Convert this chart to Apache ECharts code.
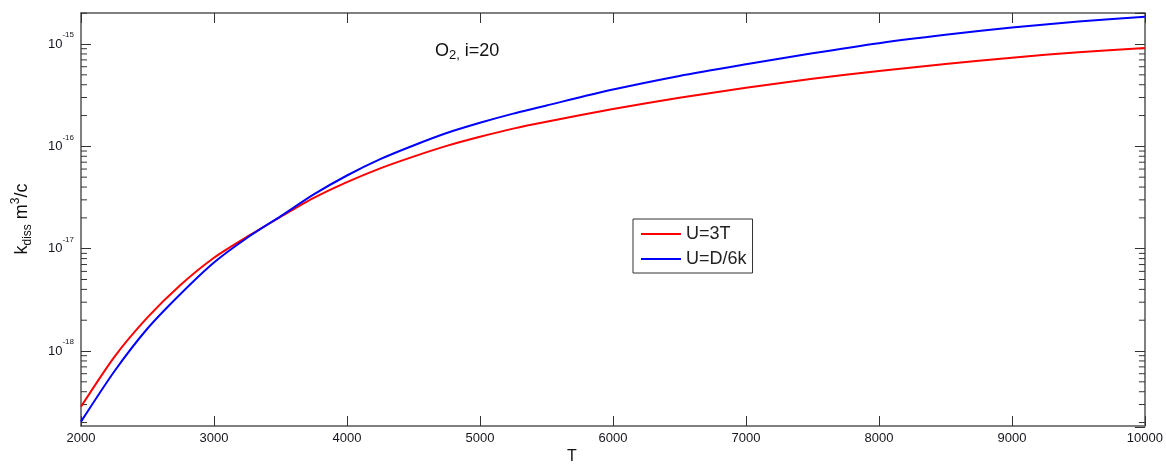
<!DOCTYPE html>
<html>
<head>
<meta charset="utf-8">
<script src="https://cdn.jsdelivr.net/npm/echarts@6/dist/echarts.min.js"></script>
<style>html,body{margin:0;padding:0;background:#fff}#c{width:1166px;height:464px}</style>
</head>
<body>
<div id="c"></div>
<script>
// ---- data ----
const T = [2000, 2250, 2500, 2750, 3000, 3250, 3500, 3750, 4000, 4250, 4500, 4750, 5000, 5250, 5500, 6000, 6500, 7000, 7500, 8000, 8500, 9000, 9500, 10000];
const kU3T = [2.86e-19, 8.73e-19, 2.13e-18, 4.44e-18, 8.15e-18, 1.31e-17, 2.04e-17, 3.13e-17, 4.47e-17, 6.10e-17, 7.94e-17, 1.01e-16, 1.24e-16, 1.49e-16, 1.74e-16, 2.32e-16, 2.99e-16, 3.73e-16, 4.57e-16, 5.46e-16, 6.38e-16, 7.36e-16, 8.32e-16, 9.16e-16];
const kUD6k = [2.04e-19, 6.31e-19, 1.66e-18, 3.63e-18, 7.33e-18, 1.28e-17, 2.07e-17, 3.39e-17, 5.19e-17, 7.50e-17, 1.02e-16, 1.35e-16, 1.70e-16, 2.09e-16, 2.51e-16, 3.59e-16, 4.88e-16, 6.34e-16, 8.13e-16, 1.02e-15, 1.23e-15, 1.45e-15, 1.66e-15, 1.85e-15];
const seriesNames = ['U=3T', 'U=D/6k'];
const yDecades = [-18, -17, -16, -15];   // y tick labels 10^e
const X_MIN = 2000, X_MAX = 10000, X_STEP = 1000;
const Y_MIN = 1.85e-19, Y_MAX = 2.01e-15;

const FONT = "'Liberation Sans', Arial, Helvetica, sans-serif";
const FRAME = '#555', TICK = '#333', TXT = '#15151f';

const minorVals = [];
for (let e = -19; e <= -15; e++) {
  for (let m = 2; m <= 9; m++) {
    const v = m * Math.pow(10, e);
    if (v >= Y_MIN && v <= Y_MAX) minorVals.push(v);
  }
}

const chart = echarts.init(document.getElementById('c'), null, {renderer: 'canvas'});

function xAxisCfg(pos, showLabel) {
  return {
    type: 'value', position: pos, min: X_MIN, max: X_MAX, interval: X_STEP,
    axisLine: {show: true, onZero: false, lineStyle: {color: FRAME, width: 1.5}},
    axisTick: {show: true, inside: true, length: 10, lineStyle: {color: TICK, width: 1}},
    axisLabel: {show: showLabel, color: TXT, fontSize: 13, fontFamily: FONT, margin: 6,
      formatter: function (v) { return String(v); }},
    splitLine: {show: false}
  };
}
function yAxisCfg(pos, showLabel) {
  return {
    type: 'log', logBase: 10, position: pos, min: Y_MIN, max: Y_MAX,
    axisLine: {show: true, onZero: false, lineStyle: {color: FRAME, width: 1.5}},
    axisTick: {show: true, inside: true, length: 10, lineStyle: {color: TICK, width: 1}},
    axisLabel: {
      show: showLabel, margin: 7, showMinLabel: false, showMaxLabel: false,
      formatter: function (v) {
        const e = Math.log10(v), r = Math.round(e);
        if (Math.abs(e - r) > 1e-6 || yDecades.indexOf(r) < 0) return '';
        return '{b|10}{s|' + r + '}';
      },
      rich: {
        b: {fontSize: 13, fontFamily: FONT, color: TXT, lineHeight: 26, verticalAlign: 'middle'},
        s: {fontSize: 8, fontFamily: FONT, color: TXT, lineHeight: 10, verticalAlign: 'top'}
      }
    },
    splitLine: {show: false}
  };
}

const option = {
  animation: false,
  backgroundColor: '#fff',
  grid: {left: 81, right: 19, top: 13, bottom: 38},
  xAxis: [xAxisCfg('bottom', true), xAxisCfg('top', false)],
  yAxis: [yAxisCfg('left', true), yAxisCfg('right', false)],
  legend: {
    data: seriesNames, orient: 'vertical', left: 633, top: 219,
    itemWidth: 40, itemHeight: 16, itemGap: 7, padding: [6, 6, 5, 7],
    borderColor: '#333', borderWidth: 1, backgroundColor: '#fff', selectedMode: false,
    itemStyle: {opacity: 0},
    textStyle: {fontSize: 18, fontFamily: FONT, color: '#222'}
  },
  series: [
    {
      name: seriesNames[0], type: 'line', xAxisIndex: 0, yAxisIndex: 0,
      data: T.map((t, i) => [t, kU3T[i]]), symbol: 'none', smooth: 0.25,
      lineStyle: {color: '#ff0000', width: 2}, itemStyle: {color: '#ff0000'}
    },
    {
      name: seriesNames[1], type: 'line', xAxisIndex: 0, yAxisIndex: 0,
      data: T.map((t, i) => [t, kUD6k[i]]), symbol: 'none', smooth: 0.25,
      lineStyle: {color: '#0000ff', width: 2}, itemStyle: {color: '#0000ff'}
    },
    {
      type: 'custom', silent: true, xAxisIndex: 0, yAxisIndex: 0, z: 3,
      data: minorVals.map(v => [X_MIN, v]),
      renderItem: function (params, api) {
        const v = api.value(1);
        const pl = api.coord([X_MIN, v]);
        const pr = api.coord([X_MAX, v]);
        return {
          type: 'group',
          children: [
            {type: 'line', shape: {x1: pl[0], y1: pl[1], x2: pl[0] + 6, y2: pl[1]}, style: {stroke: TICK, lineWidth: 1}},
            {type: 'line', shape: {x1: pr[0] - 6, y1: pr[1], x2: pr[0], y2: pr[1]}, style: {stroke: TICK, lineWidth: 1}}
          ]
        };
      }
    }
  ],
  graphic: [
    {
      type: 'text', x: 22, y: 219, rotation: Math.PI / 2, silent: true,
      style: {
        text: '{n|k}{sub|diss}{n| m}{sup|3}{n|/c}', align: 'center', verticalAlign: 'middle',
        rich: {
          n: {fontSize: 18, fontFamily: FONT, fill: '#111', lineHeight: 24},
          sub: {fontSize: 12, fontFamily: FONT, fill: '#111', lineHeight: 12, verticalAlign: 'bottom'},
          sup: {fontSize: 12, fontFamily: FONT, fill: '#111', lineHeight: 14, verticalAlign: 'top'}
        }
      }
    },
    {
      type: 'text', x: 572, y: 457, silent: true,
      style: {text: 'T', fontSize: 16, fontFamily: FONT, fill: '#111', align: 'center', verticalAlign: 'middle'}
    },
    {
      type: 'text', x: 435, y: 51, silent: true,
      style: {
        text: '{n|O}{sub|2,}{n| i=20}', align: 'left', verticalAlign: 'middle',
        rich: {
          n: {fontSize: 18, fontFamily: FONT, fill: '#111', lineHeight: 22},
          sub: {fontSize: 13, fontFamily: FONT, fill: '#111', lineHeight: 12, verticalAlign: 'bottom'}
        }
      }
    }
  ]
};
chart.setOption(option);
</script>
</body>
</html>
